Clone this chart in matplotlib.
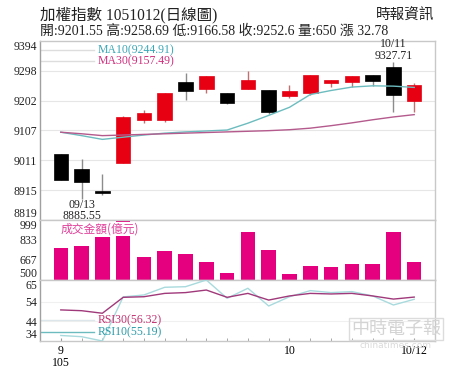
import matplotlib
matplotlib.use("Agg")
import matplotlib.pyplot as plt
import numpy as np

# ---------------- data ----------------
dates = ["09/12", "09/13", "09/14", "09/19", "09/20", "09/21", "09/22", "09/23", "09/26",
         "09/29", "09/30", "10/03", "10/04", "10/05", "10/06", "10/07", "10/11", "10/12"]
opens  = [9030, 8984, 8912, 9003, 9141, 9141, 9263, 9240, 9227, 9240, 9237, 9218, 9227, 9259, 9263, 9285, 9309, 9201.55]
highs  = [9032, 9014, 8966, 9153, 9173, 9228, 9290, 9283, 9228, 9298, 9238, 9253, 9286, 9270, 9283, 9286, 9327.71, 9258.69]
lows   = [8947, 8885.55, 8900, 9001, 9130, 9133, 9205, 9227, 9192, 9239, 9160, 9211, 9221, 9245, 9245, 9248, 9165, 9166.58]
closes = [8949, 8941, 8905, 9151, 9162, 9227, 9234, 9282, 9195, 9269, 9165, 9232, 9285, 9269, 9282, 9264, 9219.82, 9252.6]
ma10 = [9101, 9090, 9078, 9085, 9092, 9098, 9102, 9105, 9108, 9130, 9155, 9181, 9222, 9235, 9246, 9250, 9249, 9244.91]
ma30 = [9101, 9096, 9090, 9092, 9094, 9096, 9098, 9100, 9102, 9104, 9106, 9109, 9114, 9122, 9131, 9141, 9150, 9157.49]
volume = [764, 786, 856, 1020, 694, 742, 714, 653, 556, 903, 747, 553, 619, 606, 633, 633, 900, 650]
rsi30 = [49.8, 49.4, 48.1, 56.2, 56.5, 58.2, 58.6, 59.9, 56.2, 58.2, 54.8, 56.9, 58.2, 57.9, 58.2, 56.9, 55.3, 56.32]
rsi10 = [36.8, 36.2, 34.0, 56.4, 57.4, 61.3, 61.6, 65.0, 55.7, 60.8, 51.8, 56.5, 59.6, 58.6, 59.1, 56.9, 52.3, 55.19]

price_ticks = [8819, 8915, 9011, 9107, 9202, 9298, 9394]
vol_ticks = [500, 667, 833, 999]
rsi_ticks = [34, 44, 54, 65]
x_tick_idx = [0, 11, 17]
x_tick_labels = ["9\n105", "10", "10/12"]

title = "加權指數 1051012(日線圖)"
subtitle = "開:9201.55 高:9258.69 低:9166.58 收:9252.6 量:650 漲 32.78"
source = "時報資訊"

# ---------------- style ----------------
FONT = ["Liberation Serif", "Noto Sans CJK TC", "DejaVu Sans"]
plt.rcParams["font.family"] = FONT
RED = "#e60012"
PINK = "#e4007f"
GRID = "#e6e6e6"
FRAME = "#c8c8c8"

W, H = 474, 380
fig = plt.figure(figsize=(W / 100, H / 100), dpi=100)

def ax_rect(top_px, bot_px):
    return [40 / W, 1 - bot_px / H, (435 - 40) / W, (bot_px - top_px) / H]

ax1 = fig.add_axes(ax_rect(41, 220))
ax2 = fig.add_axes(ax_rect(220, 280), sharex=ax1)
ax3 = fig.add_axes(ax_rect(280, 341), sharex=ax1)

x = np.arange(len(dates))

for ax in (ax1, ax2, ax3):
    for s in ax.spines.values():
        s.set_color(FRAME)
        s.set_linewidth(1)
    ax.spines["left"].set_color("#a0a0a0")
    ax.tick_params(axis="y", length=0, labelsize=8.5, pad=2, colors="#222222")
    ax.set_xlim(-1, 18)

# ---- price panel ----
ax1.set_ylim(8819, 9394)
ax1.set_yticks(price_ticks)
ax1.set_yticklabels([str(t) for t in price_ticks])
for t in price_ticks[1:-1]:
    ax1.axhline(t, color=GRID, lw=0.8, zorder=0)
for i in x:
    o, h, l, c = opens[i], highs[i], lows[i], closes[i]
    up = c >= o
    col = RED if up else "black"
    ax1.vlines(i, l, h, color="#8c8c8c" if not up else "#c07070", lw=1, zorder=2)
    ax1.bar(i, abs(c - o) if abs(c - o) > 2 else 3, bottom=min(o, c), width=0.7,
            color=col, edgecolor=col, lw=0.5, zorder=3)
ax1.plot(x, ma10, color="#6cbcbf", lw=1, zorder=4)
ax1.plot(x, ma30, color="#b45a8c", lw=1, zorder=4)
ax1.tick_params(axis="x", bottom=False, labelbottom=False)
# legend
ax1.plot([-0.98, 1.6], [9365, 9365], color="#dddddd", lw=1)
ax1.plot([-0.98, 1.6], [9330, 9330], color="#dddddd", lw=1)
ax1.text(1.75, 9365, "MA10(9244.91)", color="#3aa7b6", fontsize=8.5, va="center", ha="left")
ax1.text(1.75, 9330, "MA30(9157.49)", color="#d02d7d", fontsize=8.5, va="center", ha="left")
# annotations
ax1.text(1, 8866, "09/13", fontsize=8.5, ha="center", va="center", color="#222222")
ax1.text(1, 8833, "8885.55", fontsize=8.5, ha="center", va="center", color="#222222")
ax1.text(16, 9384, "10/11", fontsize=8.5, ha="center", va="center", color="#222222")
ax1.text(16, 9346, "9327.71", fontsize=8.5, ha="center", va="center", color="#222222")

# ---- volume panel ----
ax2.set_ylim(500, 999)
ax2.bar(x, np.array(volume) - 500, bottom=500, width=0.7, color=PINK, zorder=2)
ax2.set_yticks(vol_ticks)
ax2.set_yticklabels([str(t) for t in vol_ticks])
ax2.tick_params(axis="x", bottom=False, labelbottom=False)
ax2.text(0.0, 928, "成交金額(億元)", color="#e0409a", fontsize=8.5, ha="left", va="center",
         family=["Noto Sans CJK TC", "DejaVu Sans"], zorder=5,
         bbox=dict(facecolor="white", edgecolor="none", pad=0.3))

# ---- RSI panel ----
ax3.set_ylim(34, 65)
for t in [44, 54]:
    ax3.axhline(t, color="#f0f0f0", lw=0.8, zorder=0)
ax3.plot(x, rsi10, color="#a8dadd", lw=1, zorder=3)
ax3.plot(x, rsi30, color="#a0397a", lw=1, zorder=4)
ax3.set_yticks(rsi_ticks)
ax3.set_yticklabels([str(t) for t in rsi_ticks])
ax3.plot([-0.97, 1.6], [44.6, 44.6], color="#dde6ea", lw=1)
ax3.plot([-0.97, 1.6], [38.6, 38.6], color="#6cbcbf", lw=1)
ax3.text(1.75, 44.6, "RSI30(56.32)", color="#c2306f", fontsize=8.5, va="center", ha="left")
ax3.text(1.75, 38.6, "RSI10(55.19)", color="#2a9aa8", fontsize=8.5, va="center", ha="left")
ax3.set_xticks(x, minor=True)
ax3.set_xticks(x_tick_idx)
ax3.set_xticklabels(x_tick_labels, fontsize=8.5, linespacing=1.0)
for lab in ax3.get_xticklabels():
    lab.set_verticalalignment("top")
ax3.tick_params(axis="x", which="both", direction="in", length=2, color="#999999", pad=3)

# edge label alignment
for ax in (ax1, ax2, ax3):
    labs = ax.get_yticklabels()
    labs[0].set_verticalalignment("bottom")
    labs[-1].set_verticalalignment("top")

# ---- header ----
fig.text(40 / W, 1 - 15 / H, title, fontsize=11.2, ha="left", va="center", color="#222222")
fig.text(40 / W, 1 - 31 / H, subtitle, fontsize=10, ha="left", va="center", color="#222222")
fig.text(434 / W, 1 - 16 / H, source, fontsize=10.5, ha="right", va="center", color="#222222")

# ---- watermark ----
fig.text(396 / W, 1 - 329 / H, "中時電子報", fontsize=13, ha="center", va="center", color="#d4d4d4",
         family=["Noto Sans CJK TC", "DejaVu Sans"], zorder=10,
         bbox=dict(facecolor="none", edgecolor="#dcdcdc", pad=1.2, lw=1))
fig.text(396 / W, 1 - 346 / H, "chinatimes.com", fontsize=6.5, ha="center", va="center",
         color="#dadada", family="DejaVu Sans", zorder=1)

fig.savefig("out.png", dpi=100)
